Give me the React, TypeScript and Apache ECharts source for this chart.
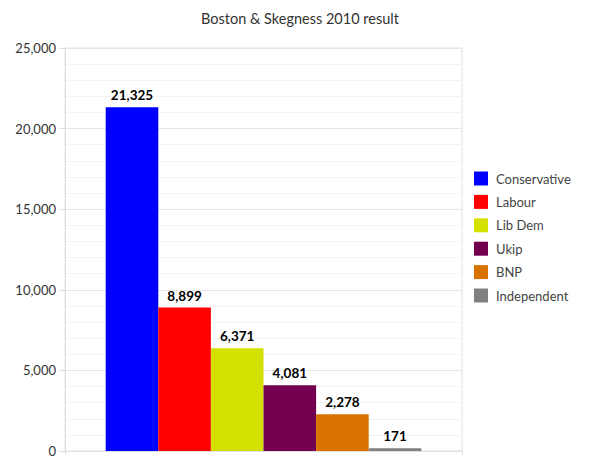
import React, { useEffect, useRef } from "react";
import * as echarts from "echarts";

const parties = ["Conservative", "Labour", "Lib Dem", "Ukip", "BNP", "Independent"];
const votes = [21325, 8899, 6371, 4081, 2278, 171];
const colors = ["#0000ff", "#ff0000", "#d4e100", "#72004f", "#d97300", "#808080"];
const category = ["2010"];
const titleText = "Boston & Skegness 2010 result";

const FONT = "Lato, 'DejaVu Sans', sans-serif";

export default function App() {
  const ref = useRef<HTMLDivElement>(null);
  useEffect(() => {
    if (!ref.current) return;
    const chart = echarts.init(ref.current, undefined, { renderer: "svg" });
    chart.setOption({
      animation: false,
      textStyle: { fontFamily: FONT },
      title: {
        text: titleText,
        left: "center",
        top: 6,
        textStyle: { fontSize: 14.5, fontWeight: "normal", color: "#333", fontFamily: FONT },
      },
      legend: {
        orient: "vertical",
        left: 469,
        top: 166.5,
        itemWidth: 14,
        itemHeight: 14,
        itemGap: 9.4,
        icon: "rect",
        textStyle: { fontSize: 13, color: "#444", fontFamily: FONT, padding: [0, 0, 0, 3] },
        data: parties,
      },
      grid: {
        left: 65,
        right: 138,
        top: 48,
        bottom: 12,
        show: true,
        borderColor: "#e0e0e0",
        borderWidth: 1,
        containLabel: false,
      },
      xAxis: {
        type: "category",
        data: category,
        axisLabel: { show: false },
        axisLine: { lineStyle: { color: "#e0e0e0" } },
        axisTick: { show: true, length: 4, lineStyle: { color: "#e0e0e0" } },
      },
      yAxis: {
        type: "value",
        min: 0,
        max: 25000,
        interval: 5000,
        axisLine: { show: true, lineStyle: { color: "#e0e0e0" } },
        axisTick: { show: true, length: 6, lineStyle: { color: "#e0e0e0" } },
        axisLabel: {
          fontSize: 13,
          color: "#333",
          margin: 9,
          fontFamily: FONT,
          formatter: (v: number) => v.toLocaleString("en-US"),
        },
        splitLine: { show: true, lineStyle: { color: "#e6e6e6" } },
        minorTick: { show: false, splitNumber: 5 },
        minorSplitLine: { show: true, lineStyle: { color: "#f3f3f3" } },
      },
      series: parties.map((p, i) => ({
        name: p,
        type: "bar",
        data: [votes[i]],
        barGap: "0%",
        barCategoryGap: "20.5%",
        itemStyle: { color: colors[i] },
        label: {
          show: true,
          position: "top",
          distance: 5,
          fontSize: 13.5,
          fontWeight: "bold",
          color: "#000",
          fontFamily: FONT,
          formatter: (pr: any) => Number(pr.value).toLocaleString("en-US"),
        },
      })),
    });
    return () => chart.dispose();
  }, []);
  return (
    <div
      ref={ref}
      style={{ position: "fixed", left: 0, top: 0, width: 600, height: 463, background: "#fff" }}
    />
  );
}
